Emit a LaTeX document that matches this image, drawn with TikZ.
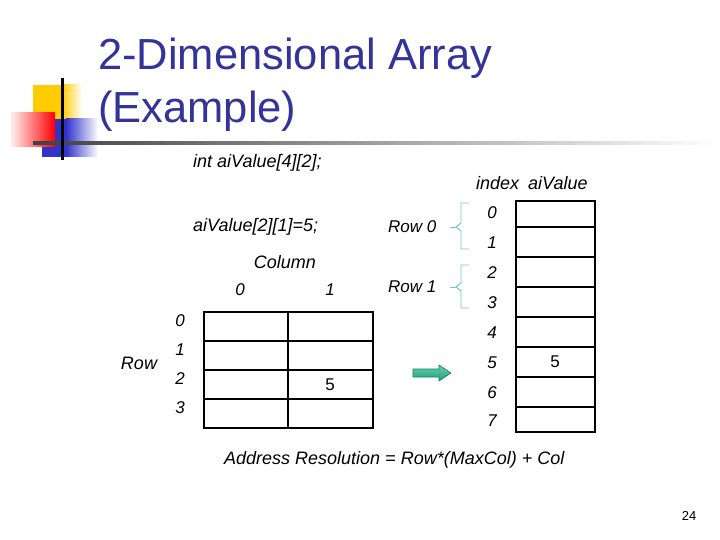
\documentclass[tikz,border=0pt]{standalone}
\usepackage{fontspec}
\setmainfont{Liberation Sans}
\definecolor{titleblue}{RGB}{51,51,153}
\definecolor{bracecol}{RGB}{110,200,200}
\definecolor{arrowgreen}{RGB}{20,165,120}
\definecolor{logoyellow}{RGB}{255,204,0}
\definecolor{logoblue}{RGB}{51,51,204}
\begin{document}
\begin{tikzpicture}[x=1pt,y=-1pt,
  title/.style={font=\fontsize{43.5}{50}\selectfont, text=titleblue, inner sep=0pt, anchor=base west},
  lab/.style={font=\fontsize{18}{21}\selectfont\itshape, inner sep=0pt},
  idx/.style={font=\fontsize{17}{20}\selectfont\itshape, inner sep=0pt},
  val/.style={font=\fontsize{17}{20}\selectfont, inner sep=0pt},
  gridline/.style={line width=1.6pt, black},
  bracestyle/.style={draw=bracecol, line width=0.9pt}]
\useasboundingbox (0,0) rectangle (720,540);
% logo
\fill[logoyellow] (33,85) rectangle (62,120);
\shade[left color=logoyellow, right color=white] (62,85) rectangle (82,120);
\fill[logoblue] (42,119) rectangle (66,157);
\shade[left color=logoblue, right color=white] (66,119) rectangle (98,157);
\shade[left color=red!4, right color=red] (10,113) rectangle (55,147);
\shade[left color=black!75, right color=white] (33,141.5) rectangle (720,144.5);
\fill[black] (61,78) rectangle (63.5,160);
% title
\node[title] (t1) at (98,70) {2-Dimensional Array};
\node[title] (t2) at (98,123) {(Example)};
% texts
\node[lab, anchor=west] (decl) at (193,163) {int aiValue[4][2];};
\node[lab, anchor=west] (assign) at (193,227) {aiValue[2][1]=5;};
\node[lab, anchor=west] (hdr) at (476,183) {index\hspace{4pt} aiValue};
\node[lab] (colh) at (285,262) {Column};
\node[idx] (c0) at (240,290) {0};
\node[idx] (c1) at (330,290) {1};
\node[lab] (rowh) at (139,363) {Row};
\foreach \i/\y in {0/321,1/350,2/379,3/408} \node[idx] (r\i) at (180,\y) {\i};
% left table
\draw[gridline] (204,312) rectangle (373,428);
\draw[gridline] (288,312) -- (288,428);
\foreach \y in {341,370,399} \draw[gridline] (204,\y) -- (373,\y);
\node[val] (v5) at (330,385) {5};
% memory column
\draw[gridline] (516,201) rectangle (595,432);
\foreach \y in {227,257,287,317,347,377,407} \draw[gridline] (516,\y) -- (595,\y);
\foreach \i/\y in {0/213,1/243,2/273,3/303,4/333,5/363,6/393,7/421} \node[idx] (m\i) at (492,\y) {\i};
\node[val] (mv5) at (555,362) {5};
% row labels and braces
\node[lab, anchor=west, font=\fontsize{17}{20}\selectfont\itshape] (row0) at (388,227) {Row 0};
\node[lab, anchor=west, font=\fontsize{17}{20}\selectfont\itshape] (row1) at (388,287) {Row 1};
\draw[bracestyle] (469,203) -- (461,203) -- (461,223) -- (456,227) -- (461,231) -- (461,249) -- (469,249);
\draw[bracestyle] (456,227) -- (450,227);
\draw[bracestyle] (469,265) -- (461,265) -- (461,283) -- (456,287) -- (461,291) -- (461,308) -- (469,308);
\draw[bracestyle] (456,287) -- (450,287);
% arrow
\shade[top color=arrowgreen!60!white, bottom color=arrowgreen, draw=arrowgreen!80!black, line width=0.6pt]
  (413,369) -- (439,369) -- (439,365) -- (451,373) -- (439,381) -- (439,377) -- (413,377) -- cycle;
% formula
\node[lab, anchor=west] (formula) at (224,460) {Address Resolution = Row*(MaxCol) + Col};
\node[font=\fontsize{13}{15}\selectfont, inner sep=0pt] (pg) at (689,516) {24};
\end{tikzpicture}
\end{document}
